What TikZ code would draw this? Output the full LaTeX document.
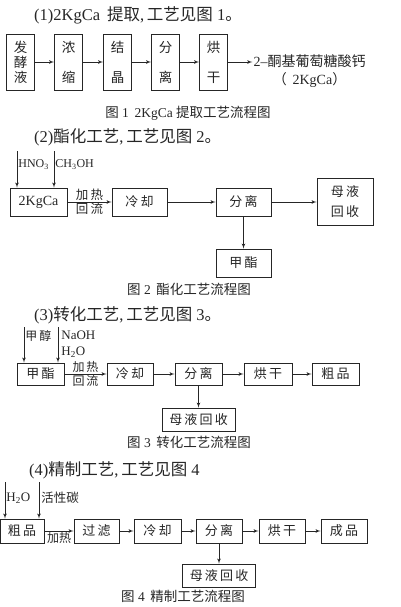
\documentclass[tikz,border=0pt]{standalone}
\usepackage{fontspec}
\setmainfont{Liberation Serif}
\newfontfamily\cjk{Noto Sans CJK SC}
\usetikzlibrary{shapes,arrows,positioning}
\definecolor{ink}{rgb}{.15,.15,.15}
\tikzstyle{block} = [rectangle, draw=ink, line width=0.7pt, text=ink, inner sep=0pt,
    minimum width=46pt, minimum height=23pt, text centered,
    font=\fontsize{13}{15}\selectfont\cjk]
\tikzstyle{tallblock} = [block, minimum width=28pt, minimum height=56pt,
    align=center, font=\fontsize{13.5}{15}\selectfont\cjk]
\tikzstyle{line} = [draw=ink, line width=0.75pt, -latex']
\tikzstyle{heading} = [anchor=west, inner sep=0pt, text=ink,
    font=\fontsize{16.5}{18}\selectfont]
\tikzstyle{figcaption} = [inner sep=0pt, text=ink, font=\fontsize{13.5}{16}\selectfont]
\tikzstyle{remark} = [inner sep=1pt, text=ink, font=\fontsize{12}{14}\selectfont]

\begin{document}
\begin{tikzpicture}[x=1pt, y=-1pt, node distance=48pt, auto]
    \useasboundingbox (0,0) rectangle (400,607);
    % Part 1: extraction
    \node [heading] (title1) at (34,15) {(1)2KgCa\ \,{\cjk 提取},\,{\cjk 工艺见图}\ 1{\cjk 。}};
    \node [tallblock] (ferm) at (20.5,62) {发\\酵\\液};
    \node [tallblock, right of=ferm] (conc) {浓\\[15pt]缩};
    \node [tallblock, right of=conc, node distance=49pt] (cryst) {结\\[15pt]晶};
    \node [tallblock, right of=cryst] (sep1) {分\\[15pt]离};
    \node [tallblock, right of=sep1] (dry1) {烘\\[15pt]干};
    \node [remark, align=center, right of=dry1, node distance=96pt, yshift=-9pt,
        font=\fontsize{14}{18}\selectfont] (prod) {2–{\cjk 酮基葡萄糖酸钙}\\{\cjk （}\, 2KgCa{\cjk ）}};
    \node [figcaption] (cap1) at (188,113) {{\cjk 图} 1\, 2KgCa {\cjk 提取工艺流程图}};
    % Part 2: esterification
    \node [heading] (title2) at (34,137) {(2){\cjk 酯化工艺},\,{\cjk 工艺见图}\ 2{\cjk 。}};
    \node [block, minimum width=57pt, minimum height=28pt] (ca) at (38.5,202)
        {\rmfamily\fontsize{14}{16}\selectfont 2KgCa};
    \node [block, minimum width=55pt, minimum height=28pt, right of=ca, node distance=101pt] (cool2) {冷\,却};
    \node [block, minimum width=55pt, minimum height=28pt, right of=cool2, node distance=104pt] (sep2) {分\,离};
    \node [block, minimum width=56pt, minimum height=47pt, align=center, right of=sep2,
        node distance=101.5pt, font=\fontsize{13}{20}\selectfont\cjk] (mother2) {母\,液\\回\,收};
    \node [block, minimum width=55pt, minimum height=28pt, below of=sep2, node distance=61pt] (ester2) {甲\,酯};
    \coordinate (hno) at (17,151);
    \coordinate (meoh) at (54,151);
    \node [figcaption] (cap2) at (189,289) {{\cjk 图} 2\, {\cjk 酯化工艺流程图}};
    % Part 3: conversion
    \node [heading] (title3) at (34,315) {(3){\cjk 转化工艺},\,{\cjk 工艺见图}\ 3{\cjk 。}};
    \node [block, minimum width=47pt, minimum height=22pt] (ester3) at (40.5,374) {甲\,酯};
    \node [block, minimum height=22pt, right of=ester3, node distance=89.5pt] (cool3) {冷\,却};
    \node [block, minimum width=47pt, minimum height=22pt, right of=cool3, node distance=68.5pt] (sep3) {分\,离};
    \node [block, minimum width=48pt, minimum height=22pt, right of=sep3, node distance=69.5pt] (dry3) {烘\,干};
    \node [block, minimum width=47pt, minimum height=22pt, right of=dry3, node distance=67.5pt] (crude3) {粗\,品};
    \node [block, minimum width=73pt, below of=sep3, node distance=45.5pt] (mother3) {母\,液\,回\,收};
    \coordinate (meth) at (24,327);
    \coordinate (naoh) at (58,327);
    \node [figcaption] (cap3) at (189,442) {{\cjk 图} 3\, {\cjk 转化工艺流程图}};
    % Part 4: refining
    \node [heading] (title4) at (29,470) {(4){\cjk 精制工艺},\,{\cjk 工艺见图}\ 4};
    \node [block, minimum width=44pt, minimum height=24pt] (crude4) at (22,531) {粗\,品};
    \node [block, minimum width=45pt, minimum height=24pt, right of=crude4, node distance=74.5pt] (filt4) {过\,滤};
    \node [block, minimum width=47pt, minimum height=24pt, right of=filt4, node distance=61pt] (cool4) {冷\,却};
    \node [block, minimum height=24pt, right of=cool4, node distance=61.5pt] (sep4) {分\,离};
    \node [block, minimum height=24pt, right of=sep4, node distance=63pt] (dry4) {烘\,干};
    \node [block, minimum height=24pt, right of=dry4, node distance=62pt] (final4) {成\,品};
    \node [block, minimum width=73pt, below of=sep4, node distance=44.5pt] (mother4) {母\,液\,回\,收};
    \coordinate (water) at (5,482);
    \coordinate (carbon) at (39,482);
    \node [figcaption] (cap4) at (183,596) {{\cjk 图} 4\, {\cjk 精制工艺流程图}};
    % Draw edges
    \path [line] (ferm) -- (conc);
    \path [line] (conc) -- (cryst);
    \path [line] (cryst) -- (sep1);
    \path [line] (sep1) -- (dry1);
    \path [line] (dry1) -- (dry1 -| prod.west);
    \path [line] (hno) -- node [remark, right, pos=.38] {HNO\textsubscript{3}} (hno |- ca.north);
    \path [line] (meoh) -- node [remark, right, pos=.38] {CH\textsubscript{3}OH} (meoh |- ca.north);
    \path [line] (ca) -- node [remark, above, font=\fontsize{12.5}{14}\selectfont\cjk] {加\,热}
        node [remark, below, font=\fontsize{12.5}{14}\selectfont\cjk] {回\,流} (cool2);
    \path [line] (cool2) -- (sep2);
    \path [line] (sep2) -- (mother2);
    \path [line] (sep2) -- (ester2);
    \path [line] (meth) -- node [remark, right, pos=.25, font=\fontsize{12}{14}\selectfont\cjk] {甲\,醇} (meth |- ester3.north);
    \path [line] (naoh) -- node [remark, right, pos=.47, align=left, inner sep=3pt,
        font=\fontsize{13}{16}\selectfont] {NaOH\\H\textsubscript{2}O} (naoh |- ester3.north);
    \path [line] (ester3) -- node [remark, above, font=\fontsize{12}{14}\selectfont\cjk] {加\,热}
        node [remark, below, font=\fontsize{12}{14}\selectfont\cjk] {回\,流} (cool3);
    \path [line] (cool3) -- (sep3);
    \path [line] (sep3) -- (dry3);
    \path [line] (dry3) -- (crude3);
    \path [line] (sep3) -- (mother3);
    \path [line] (water) -- node [remark, right, pos=.43, font=\fontsize{13}{15}\selectfont] {H\textsubscript{2}O} (water |- crude4.north);
    \path [line] (carbon) -- node [remark, right, pos=.43, inner sep=2pt, font=\fontsize{12.5}{14}\selectfont\cjk] {活性碳} (carbon |- crude4.north);
    \path [line] (crude4) -- node [remark, below, font=\fontsize{12}{14}\selectfont\cjk] {加热} (filt4);
    \path [line] (filt4) -- (cool4);
    \path [line] (cool4) -- (sep4);
    \path [line] (sep4) -- (dry4);
    \path [line] (dry4) -- (final4);
    \path [line] (sep4) -- (mother4);
\end{tikzpicture}
\end{document}
